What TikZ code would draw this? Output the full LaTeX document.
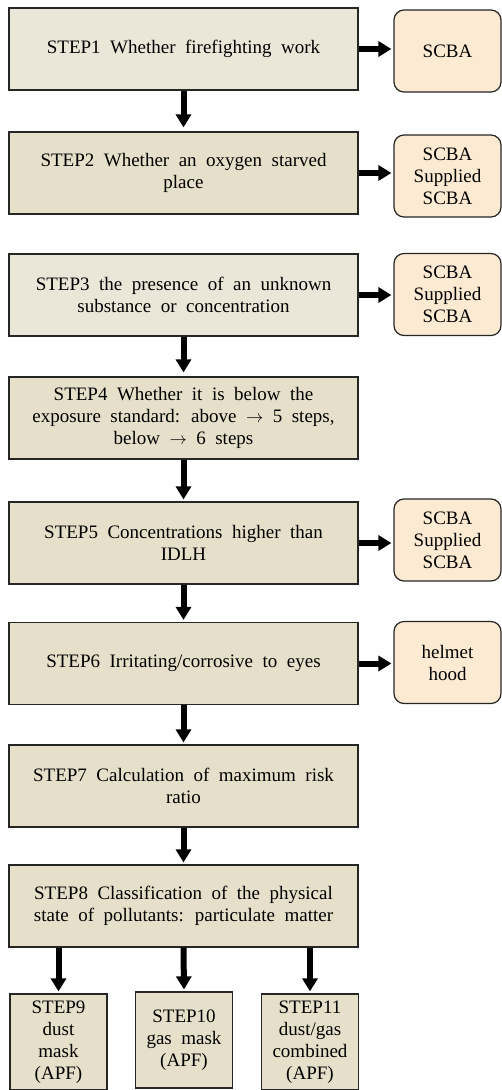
\documentclass[tikz,border=0pt]{standalone}
\usepackage{fontspec}
\setmainfont{Liberation Serif}[WordSpace=2.0]
\usetikzlibrary{arrows.meta}
\definecolor{paleA}{HTML}{EBE7D8}
\definecolor{paleB}{HTML}{E6DFC9}
\definecolor{outfill}{HTML}{FCEBD2}
\begin{document}
\begin{tikzpicture}[x=1pt,y=-1pt,
    stepbox/.style={draw=black!85,line width=1.2pt,fill=paleB,minimum width=349pt,minimum height=82pt,align=center,inner sep=2pt,font=\fontsize{19}{22}\selectfont},
    smallbox/.style={stepbox,minimum width=97pt,minimum height=96pt},
    outbox/.style={draw=black!85,line width=1.2pt,fill=outfill,rounded corners=10pt,minimum width=107pt,minimum height=82pt,align=center,font=\fontsize{19}{22}\selectfont},
    flow/.style={-{Triangle[length=13pt,width=15pt]},line width=6pt,shorten >=2pt}]
    \useasboundingbox (0,0) rectangle (502,1090);

    \node (step1) [stepbox,fill=paleA] at (183.5,49)  {STEP1 Whether firefighting work};
    \node (out1)  [outbox]             at (447.5,51)  {SCBA};
    \node (step2) [stepbox]            at (183.5,173) {STEP2 Whether an oxygen starved\\place};
    \node (out2)  [outbox]             at (447.5,176) {SCBA\\Supplied\\SCBA};
    \node (step3) [stepbox,fill=paleA] at (183.5,295) {STEP3 the presence of an unknown\\substance or concentration};
    \node (out3)  [outbox]             at (447.5,294.5) {SCBA\\Supplied\\SCBA};
    \node (step4) [stepbox]            at (183.5,418) {STEP4 Whether it is below the\\exposure standard: above $\rightarrow$ 5 steps,\\below $\rightarrow$ 6 steps};
    \node (step5) [stepbox]            at (183.5,543) {STEP5 Concentrations higher than\\IDLH};
    \node (out5)  [outbox]             at (447.5,540) {SCBA\\Supplied\\SCBA};
    \node (step6) [stepbox]            at (183.5,663.5) {STEP6 Irritating/corrosive to eyes};
    \node (out6)  [outbox]             at (447.5,662.5) {helmet\\hood};
    \node (step7) [stepbox]            at (183.5,786) {STEP7 Calculation of maximum risk\\ratio};
    \node (step8) [stepbox]            at (183.5,906) {STEP8 Classification of the physical\\state of pollutants: particulate matter};
    \node (step9)  [smallbox] at (58.5,1042)  {STEP9\\dust\\mask\\(APF)};
    \node (step10) [smallbox] at (184,1040)   {STEP10\\gas mask\\(APF)};
    \node (step11) [smallbox] at (310,1042)   {STEP11\\dust/gas\\combined\\(APF)};

    \draw [flow] (step1.east) -- (out1.west |- step1.east);
    \draw [flow] (step2.east) -- (out2.west |- step2.east);
    \draw [flow] (step3.east) -- (out3.west |- step3.east);
    \draw [flow] (step5.east) -- (out5.west |- step5.east);
    \draw [flow] (step6.east) -- (out6.west |- step6.east);
    \draw [flow,shorten >=4pt] (step1.south) -- (step2.north);
    \draw [flow,shorten >=4pt] (step3.south) -- (step4.north);
    \draw [flow,shorten >=2pt] (step4.south) -- (step5.north);
    \draw [flow,shorten >=2pt] (step5.south) -- (step6.north);
    \draw [flow,shorten >=2pt] (step6.south) -- (step7.north);
    \draw [flow,shorten >=2pt] (step7.south) -- (step8.north);
    \draw [flow] (step9.north |- step8.south) -- (step9.north);
    \draw [flow] (step8.south) -- (step10.north);
    \draw [flow] (step11.north |- step8.south) -- (step11.north);
\end{tikzpicture}
\end{document}
